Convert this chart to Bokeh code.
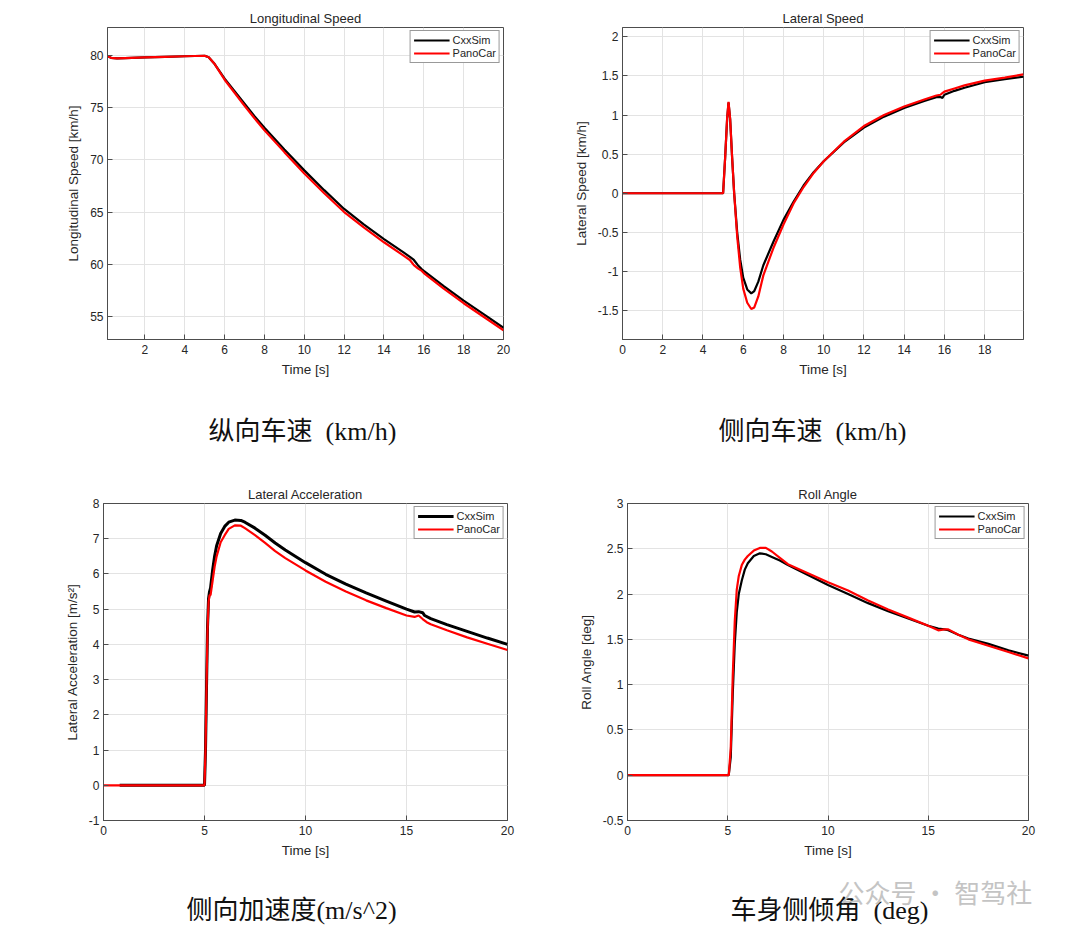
import numpy as np
from bokeh.plotting import figure
from bokeh.models import Range1d, FixedTicker, CustomJSTickFormatter, Label
from bokeh.layouts import row, column
from bokeh.embed import file_html
from bokeh.resources import INLINE

# ---- data (time [s], value) ----
# Longitudinal speed [km/h]
t_lon = [0.12, 0.3, 0.6, 1, 2, 3, 4, 5, 5.2, 5.5, 6, 6.5, 7, 7.5, 8, 9, 10, 11, 12,
         13, 14, 15, 15.3, 15.5, 15.7, 15.9, 16, 17, 18, 19, 20]
lon_cxx = [79.95, 79.8, 79.75, 79.78, 79.85, 79.9, 79.95, 80.0, 79.85, 79.2, 77.8,
           76.6, 75.4, 74.2, 73.1, 71.0, 69.0, 67.1, 65.3, 63.8, 62.4, 61.1, 60.7,
           60.4, 59.9, 59.5, 59.35, 57.9, 56.5, 55.2, 53.9]
lon_pano = [79.95, 79.8, 79.75, 79.78, 79.85, 79.9, 79.95, 80.0, 79.85, 79.2, 77.7,
            76.45, 75.2, 74.0, 72.85, 70.75, 68.7, 66.8, 65.0, 63.5, 62.1, 60.8, 60.4,
            59.9, 59.6, 59.35, 59.15, 57.65, 56.25, 54.95, 53.65]

# Lateral speed [km/h]
t_lat = [0, 5.0, 5.1, 5.2, 5.27, 5.35, 5.45, 5.55, 5.7, 5.85, 6.0, 6.2, 6.4, 6.55,
         6.75, 7.0, 7.5, 8, 8.5, 9, 9.5, 10, 11, 12, 13, 14, 15, 15.6, 15.8, 15.9,
         16, 16.5, 17, 18, 19, 19.93]
lat_cxx = [0, 0, 0.45, 0.95, 1.16, 0.95, 0.45, 0.0, -0.5, -0.85, -1.08, -1.23, -1.28,
           -1.25, -1.13, -0.92, -0.62, -0.34, -0.11, 0.1, 0.27, 0.41, 0.65, 0.84, 0.98,
           1.09, 1.18, 1.23, 1.23, 1.22, 1.26, 1.31, 1.35, 1.42, 1.46, 1.49]
lat_pano = [0, 0, 0.45, 0.96, 1.17, 0.95, 0.45, 0.0, -0.55, -0.95, -1.22, -1.40, -1.48,
            -1.46, -1.32, -1.05, -0.70, -0.40, -0.13, 0.08, 0.26, 0.41, 0.66, 0.86,
            1.0, 1.11, 1.2, 1.25, 1.26, 1.28, 1.30, 1.34, 1.38, 1.44, 1.48, 1.52]

# Lateral acceleration [m/s^2]
t_acc_cxx = [0.8, 5.0, 5.05, 5.1, 5.15, 5.2, 5.25, 5.3, 5.4, 5.5, 5.6, 5.8, 6.0, 6.2,
             6.5, 6.8, 7.0, 7.5, 8, 8.5, 9, 10, 11, 12, 13, 14, 15, 15.4, 15.6, 15.8,
             15.9, 16.2, 17, 18, 19, 20]
acc_cxx = [0, 0, 1.0, 2.8, 4.5, 5.3, 5.5, 5.6, 6.1, 6.5, 6.8, 7.15, 7.35, 7.47, 7.53,
           7.52, 7.47, 7.3, 7.1, 6.88, 6.68, 6.32, 5.99, 5.71, 5.46, 5.23, 5.0, 4.92,
           4.93, 4.9, 4.82, 4.73, 4.56, 4.37, 4.18, 4.0]
t_acc_pano = [0, 5.0, 5.05, 5.1, 5.15, 5.2, 5.25, 5.3, 5.4, 5.5, 5.6, 5.8, 6.0, 6.2,
              6.5, 6.8, 7.0, 7.5, 8, 8.5, 9, 10, 11, 12, 13, 14, 15, 15.4, 15.6, 15.8,
              16, 16.2, 17, 18, 19, 20]
acc_pano = [0, 0, 1.0, 2.8, 4.4, 5.2, 5.4, 5.4, 5.8, 6.2, 6.5, 6.9, 7.1, 7.28, 7.38,
            7.37, 7.3, 7.1, 6.88, 6.65, 6.45, 6.1, 5.78, 5.5, 5.25, 5.03, 4.82, 4.78,
            4.82, 4.72, 4.63, 4.57, 4.4, 4.2, 4.02, 3.84]

# Roll angle [deg]
t_roll = [0, 5.05, 5.15, 5.25, 5.35, 5.45, 5.55, 5.7, 5.85, 6.0, 6.3, 6.6, 6.9, 7.2,
          7.6, 8, 9, 10, 11, 12, 13, 14, 15, 15.5, 15.8, 16, 16.5, 17, 18, 19, 20]
roll_cxx = [0, 0, 0.2, 0.9, 1.45, 1.8, 2.0, 2.15, 2.27, 2.34, 2.42, 2.45, 2.44, 2.41,
            2.37, 2.32, 2.21, 2.1, 2.0, 1.9, 1.81, 1.73, 1.65, 1.62, 1.61, 1.6, 1.55,
            1.51, 1.45, 1.38, 1.32]
roll_pano = [0, 0, 0.3, 1.1, 1.7, 2.05, 2.2, 2.32, 2.38, 2.42, 2.48, 2.51, 2.51, 2.47,
             2.4, 2.33, 2.23, 2.13, 2.04, 1.93, 1.83, 1.74, 1.65, 1.6, 1.61, 1.61, 1.55,
             1.5, 1.43, 1.36, 1.29]

captions = ["纵向车速\u00a0\u00a0(km/h)", "侧向车速\u00a0\u00a0(km/h)",
            "侧向加速度(m/s^2)", "车身侧倾角\u00a0\u00a0(deg)"]

SANS = "Liberation Sans"
SERIF = '"Liberation Serif", "Noto Sans CJK SC"'
INK = "#262626"


def panel(title, ylabel, tk, vk, tr, vr, xr, yr, xticks, yticks,
          w, h, left, right, top, bottom, k_width=2.2):
    p = figure(width=w, height=h, x_range=Range1d(*xr), y_range=Range1d(*yr),
               title=title, output_backend="svg", toolbar_location=None,
               min_border_left=left, min_border_right=right,
               min_border_top=top, min_border_bottom=bottom)
    p.title.align = "center"
    p.title.text_font = SANS
    p.title.text_font_size = "13px"
    p.title.text_font_style = "normal"
    p.title.text_color = INK
    p.title.standoff = 3
    p.outline_line_color = "#4d4d4d"
    p.outline_line_width = 1
    fmt = CustomJSTickFormatter(code="return String(Math.round(tick * 100) / 100);")
    for ax, ticks in ((p.xaxis, xticks), (p.yaxis, yticks)):
        ax.ticker = FixedTicker(ticks=ticks, minor_ticks=[])
        ax.formatter = fmt
        ax.major_tick_in = 5
        ax.major_tick_out = 0
        ax.minor_tick_line_color = None
        ax.axis_line_color = "#4d4d4d"
        ax.major_tick_line_color = "#4d4d4d"
        ax.major_label_text_font = SANS
        ax.major_label_text_font_size = "12px"
        ax.major_label_text_color = INK
        ax.axis_label_text_font = SANS
        ax.axis_label_text_font_size = "13.5px"
        ax.axis_label_text_font_style = "normal"
        ax.axis_label_text_color = INK
    p.xaxis.major_label_standoff = 5
    p.xaxis.axis_label_standoff = 5
    p.yaxis.major_label_standoff = 4
    p.yaxis.axis_label_standoff = 6
    p.xaxis.axis_label = "Time [s]"
    p.yaxis.axis_label = ylabel
    p.grid.grid_line_color = "#e3e3e3"
    p.grid.grid_line_width = 1

    p.line(tk, vk, color="black", line_width=k_width, legend_label="CxxSim")
    p.line(tr, vr, color="#ff0000", line_width=2.2, legend_label="PanoCar")
    lg = p.legend[0]
    lg.location = "top_right"
    lg.margin = 3
    lg.padding = 3
    lg.spacing = 1
    lg.glyph_width = 36
    lg.glyph_height = 12
    lg.label_height = 12
    lg.label_standoff = 3
    lg.label_text_font = SANS
    lg.label_text_font_size = "11px"
    lg.label_text_color = INK
    lg.border_line_color = "#333333"
    lg.border_line_width = 1
    lg.background_fill_alpha = 1
    return p


def caption(text, w, h, cx, cy, extra=None):
    c = figure(width=w, height=h, x_range=Range1d(0, w), y_range=Range1d(0, h),
               output_backend="svg", toolbar_location=None,
               min_border=0, outline_line_color=None)
    c.axis.visible = False
    c.grid.visible = False
    c.add_layout(Label(x=cx, y=cy, text=text, text_font=SERIF,
                       text_font_size="26px", text_color="#111111",
                       text_align="center", text_baseline="middle"))
    if extra:
        c.add_layout(extra)
    return c


pa = panel("Longitudinal Speed", "Longitudinal Speed [km/h]",
           t_lon, lon_cxx, t_lon, lon_pano, (0.12, 20), (52.77, 82.71),
           list(range(2, 21, 2)), [55, 60, 65, 70, 75, 80],
           548, 390, 107, 45, 27, 50)
pb = panel("Lateral Speed", "Lateral Speed [km/h]",
           t_lat, lat_cxx, t_lat, lat_pano, (0, 19.93), (-1.87, 2.12),
           list(range(0, 19, 2)), [-1.5, -1, -0.5, 0, 0.5, 1, 1.5, 2],
           524, 390, 74, 49, 23, 51)
pc = panel("Lateral Acceleration", "Lateral Acceleration [m/s²]",
           t_acc_cxx, acc_cxx, t_acc_pano, acc_pano, (0, 20), (-1, 8),
           [0, 5, 10, 15, 20], list(range(-1, 9)),
           548, 395, 103, 41, 31, 45, k_width=3)
pd_ = panel("Roll Angle", "Roll Angle [deg]",
            t_roll, roll_cxx, t_roll, roll_pano, (0, 20), (-0.5, 3),
            [0, 5, 10, 15, 20], [-0.5, 0, 0.5, 1, 1.5, 2, 2.5, 3],
            524, 395, 79, 44, 33, 45)

mark = Label(x=290, y=42, text="公众号 · 智驾社", text_font="Noto Sans CJK SC",
             text_font_size="26px", text_color="#c4c4c4", text_baseline="middle")

ca = caption(captions[0], 548, 80, 302, 39)
cb = caption(captions[1], 524, 80, 264, 39)
cc = caption(captions[2], 548, 68, 291, 23)
cd = caption(captions[3], 524, 68, 281, 23, extra=mark)

p = column(row(pa, pb), row(ca, cb), row(pc, pd_), row(cc, cd))

open("out.html", "w").write(file_html(p, INLINE))
